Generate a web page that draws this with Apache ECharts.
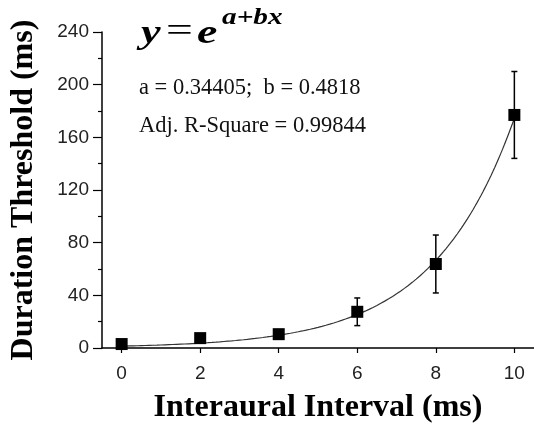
<!DOCTYPE html>
<html>
<head>
<meta charset="utf-8">
<script src="https://cdn.jsdelivr.net/npm/echarts@6/dist/echarts.min.js"></script>
<style>
  html, body { margin: 0; padding: 0; background: #fff; }
  #chart { width: 534px; height: 435px; }
</style>
</head>
<body>
<div id="chart"></div>
<script>
// Measured thresholds (mean ± error) at each interaural interval
const intervals = [0, 2, 4, 6, 8, 10];
const thresholds = [3, 7.5, 10.5, 27.5, 63.8, 177];
const errors = [1, 1.5, 2, 10.5, 22, 33];

// Exponential fit parameters y = exp(a + b x)
const fitA = 0.34405;
const fitB = 0.4818;
const adjR2 = 0.99844;

const xTicks = [0, 2, 4, 6, 8, 10];

// fitted curve sampled over the measured range
const fitCurve = [];
for (let i = 0; i <= 200; i++) {
  const x = intervals[0] + (intervals[intervals.length - 1] - intervals[0]) * i / 200;
  fitCurve.push([x, Math.exp(fitA + fitB * x)]);
}

const points = intervals.map((x, i) => [x, thresholds[i]]);
const bars = intervals.map((x, i) => [x, thresholds[i] - errors[i], thresholds[i] + errors[i]]);

const chart = echarts.init(document.getElementById('chart'), null, { renderer: 'canvas' });

const serif = '"Liberation Serif", "Times New Roman", serif';
const sans = '"Liberation Sans", Arial, sans-serif';
const eqFont = { fontFamily: serif, fontStyle: 'italic', fontWeight: 'bold', fill: '#000' };

chart.setOption({
  animation: false,
  backgroundColor: '#ffffff',
  grid: { left: 100, top: 32, width: 434, height: 316, containLabel: false },
  xAxis: {
    type: 'value',
    min: -0.5,
    max: 10.5,
    interval: 2,
    name: 'Interaural Interval (ms)',
    nameLocation: 'middle',
    nameGap: 44,
    nameTextStyle: { fontFamily: serif, fontWeight: 'bold', fontSize: 32, color: '#000' },
    axisLine: { show: true, onZero: false, lineStyle: { color: '#000', width: 1.5 } },
    axisTick: { show: true, inside: false, length: 5, lineStyle: { color: '#000', width: 1.2 },
      customValues: xTicks },
    axisLabel: { customValues: xTicks, fontFamily: sans, fontSize: 19, color: '#222', margin: 16 },
    splitLine: { show: false }
  },
  yAxis: {
    type: 'value',
    min: 0,
    max: 240,
    interval: 40,
    name: 'Duration Threshold (ms)',
    nameLocation: 'middle',
    nameGap: 62,
    nameTextStyle: { fontFamily: serif, fontWeight: 'bold', fontSize: 32, color: '#000' },
    axisLine: { show: true, onZero: false, lineStyle: { color: '#000', width: 1.5 } },
    axisTick: { show: true, inside: false, length: 9, lineStyle: { color: '#000', width: 1.2 } },
    minorTick: { show: true, splitNumber: 2, length: 4, lineStyle: { color: '#000', width: 1.2 } },
    axisLabel: { fontFamily: sans, fontSize: 19, color: '#222', margin: 13 },
    splitLine: { show: false }
  },
  series: [
    {
      name: 'fit',
      type: 'line',
      data: fitCurve,
      showSymbol: false,
      symbol: 'none',
      lineStyle: { color: '#333', width: 1.2 },
      z: 2
    },
    {
      name: 'error',
      type: 'custom',
      data: bars,
      renderItem: function (params, api) {
        const x = api.value(0);
        const lo = api.coord([x, api.value(1)]);
        const hi = api.coord([x, api.value(2)]);
        const cap = 3;
        const style = { stroke: '#000', lineWidth: 1.5, fill: null };
        return {
          type: 'group',
          children: [
            { type: 'line', shape: { x1: lo[0], y1: lo[1], x2: hi[0], y2: hi[1] }, style: style },
            { type: 'line', shape: { x1: lo[0] - cap, y1: lo[1], x2: lo[0] + cap, y2: lo[1] }, style: style },
            { type: 'line', shape: { x1: hi[0] - cap, y1: hi[1], x2: hi[0] + cap, y2: hi[1] }, style: style }
          ]
        };
      },
      z: 3
    },
    {
      name: 'threshold',
      type: 'scatter',
      data: points,
      symbol: 'rect',
      symbolSize: 12,
      itemStyle: { color: '#000', opacity: 1 },
      z: 4
    }
  ],
  graphic: [
    { type: 'text', left: 141, top: 17, scaleX: 1.3, style: Object.assign({ text: 'y', fontSize: 34 }, eqFont) },
    { type: 'text', left: 166, top: 15, scaleX: 1.4,
      style: { text: '=', fontFamily: serif, fontSize: 34, fill: '#000' } },
    { type: 'text', left: 197, top: 17, scaleX: 1.35, style: Object.assign({ text: 'e', fontSize: 34 }, eqFont) },
    { type: 'text', left: 222, top: 6, scaleX: 1.22, style: Object.assign({ text: 'a+bx', fontSize: 24 }, eqFont) },
    {
      type: 'text',
      left: 139,
      top: 77,
      style: {
        text: 'a = ' + fitA + ';  b = ' + fitB,
        fontFamily: serif, fontSize: 22.5, fill: '#111'
      }
    },
    {
      type: 'text',
      left: 139,
      top: 115,
      style: {
        text: 'Adj. R-Square = ' + adjR2,
        fontFamily: serif, fontSize: 22.5, fill: '#111'
      }
    }
  ]
});
</script>
</body>
</html>
